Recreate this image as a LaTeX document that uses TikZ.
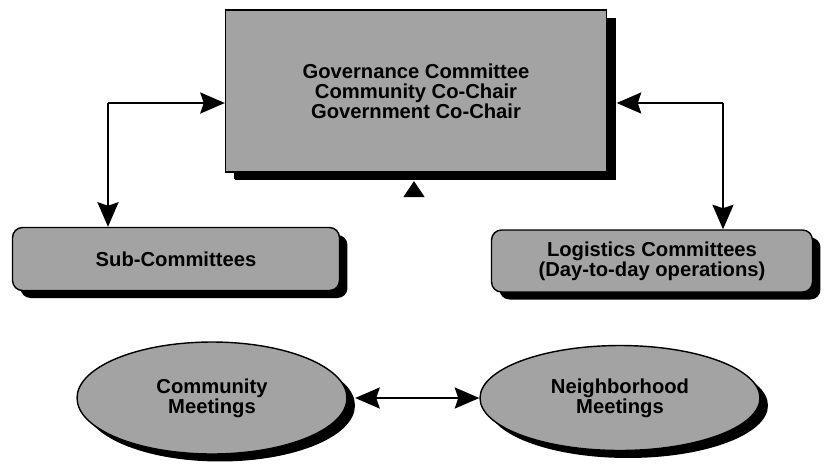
\documentclass[tikz,border=0pt]{standalone}
\usepackage{fontspec}
\setmainfont{Liberation Sans}
\usetikzlibrary{shapes.geometric,shadows,arrows.meta}

\tikzset{
  shade box/.style={draw=black, thick, fill=gray!72, inner sep=0pt,
    font=\bfseries\fontsize{11.5}{11.4}\selectfont, align=center,
    drop shadow={shadow xshift=0.16cm, shadow yshift=-0.15cm, fill=black, opacity=1}},
  govbox/.style={shade box, minimum width=7.62cm, minimum height=3.24cm,
    drop shadow={shadow xshift=0.19cm, shadow yshift=-0.16cm, fill=black, opacity=1}},
  combox/.style={shade box, rounded corners=0.2cm},
  meetell/.style={shade box, ellipse},
  link/.style={line width=1.1pt, -{Stealth[length=14pt,width=12pt,inset=2pt]}}
}

\begin{document}
\begin{tikzpicture}[x=0.02cm,y=-0.02cm]
    \useasboundingbox (0,0) rectangle (825,464);
    \node[govbox] (gov) at (416,91) {Governance Committee\\Community Co-Chair\\Government Co-Chair}; % top box
    \node[combox, minimum width=6.54cm, minimum height=1.26cm] (sub) at (176,259) {Sub-Committees}; % left box
    \node[combox, minimum width=6.42cm, minimum height=1.24cm] (logi) at (652,261) {Logistics Committees\\(Day-to-day operations)}; % right box
    \node[meetell, minimum width=5.4cm, minimum height=2.24cm] (comm) at (212,398) {Community\\Meetings}; % left ellipse
    \node[meetell, minimum width=5.6cm, minimum height=2.1cm] (neigh) at (620,398) {Neighborhood\\Meetings}; % right ellipse
    \coordinate (lcorner) at (108,103); % left turn
    \coordinate (rcorner) at (723,103); % right turn
    \coordinate (mid) at (414,196); % below top box
    \draw[link] (lcorner) -- (gov.west |- lcorner); % to top box
    \draw[link] (lcorner) -- (sub.north -| lcorner); % to sub box
    \draw[link] (rcorner) -- ([xshift=0.19cm]gov.east |- rcorner); % to top box
    \draw[link] (rcorner) -- (logi.north -| rcorner); % to logistics box
    \draw[line width=0.5pt, -{Triangle[length=9pt,width=12pt]}] (mid) -- ([yshift=-0.17cm]gov.south -| mid); % small head
    \draw[link] ([xshift=-0.2cm]neigh.west |- comm.east) -- ([xshift=0.15cm]comm.east); % to community
    \draw[link] ([xshift=0.2cm]comm.east) -- (neigh.west |- comm.east); % to neighborhood
\end{tikzpicture}
\end{document}
